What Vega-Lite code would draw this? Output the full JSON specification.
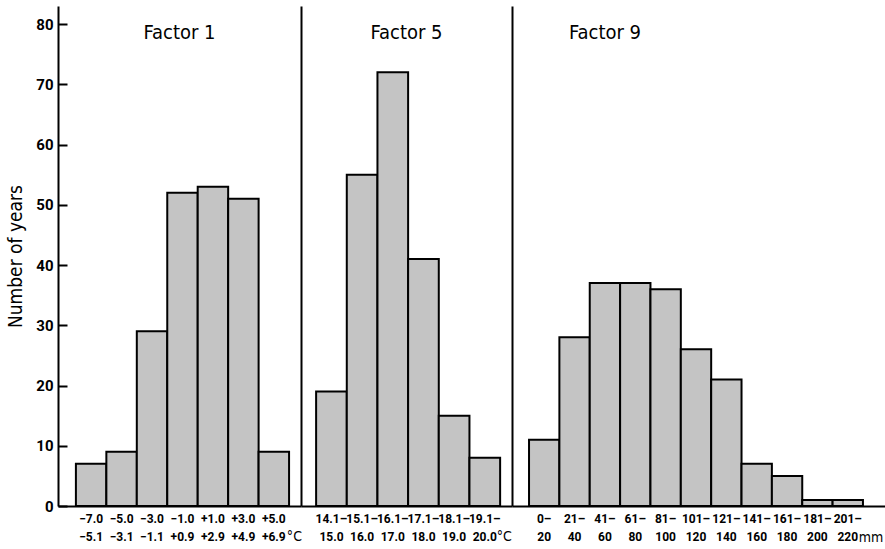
{
  "$schema": "https://vega.github.io/schema/vega-lite/v6.json",
  "background": "white",
  "padding": {"left": 6, "top": 6, "right": 0, "bottom": 0},
  "spacing": 0,
  "bounds": "flush",
  "config": {
    "font": "DejaVu Sans Condensed",
    "view": {"stroke": null},
    "axis": {"domainColor": "black", "domainWidth": 2, "tickColor": "black", "labelColor": "black", "titleColor": "black", "grid": false},
    "axisX": {"title": null, "ticks": false, "labelAngle": 0, "labelPadding": 7, "labelFont": "Roboto", "labelFontSize": 12, "labelFontWeight": "bold", "labelLineHeight": 18, "labelOverlap": false, "labelExpr": "split(datum.label, '\\n')"},
    "title": {"color": "black", "fontWeight": "normal", "fontSize": 20, "font": "DejaVu Sans Condensed"}
  },
  "datasets": {
    "f1": [
      {"range": "−7.0\n−5.1", "years": 7},
      {"range": "−5.0\n−3.1", "years": 9},
      {"range": "−3.0\n−1.1", "years": 29},
      {"range": "−1.0\n+0.9", "years": 52},
      {"range": "+1.0\n+2.9", "years": 53},
      {"range": "+3.0\n+4.9", "years": 51},
      {"range": "+5.0\n+6.9", "years": 9, "unit": "°C"}
    ],
    "f5": [
      {"range": "14.1–\n15.0", "years": 19},
      {"range": "15.1–\n16.0", "years": 55},
      {"range": "16.1–\n17.0", "years": 72},
      {"range": "17.1–\n18.0", "years": 41},
      {"range": "18.1–\n19.0", "years": 15},
      {"range": "19.1–\n20.0", "years": 8, "unit": "°C"}
    ],
    "f9": [
      {"range": "0–\n20", "years": 11},
      {"range": "21–\n40", "years": 28},
      {"range": "41–\n60", "years": 37},
      {"range": "61–\n80", "years": 37},
      {"range": "81–\n100", "years": 36},
      {"range": "101–\n120", "years": 26},
      {"range": "121–\n140", "years": 21},
      {"range": "141–\n160", "years": 7},
      {"range": "161–\n180", "years": 5},
      {"range": "181–\n200", "years": 1},
      {"range": "201–\n220", "years": 1, "unit": "mm"}
    ]
  },
  "hconcat": [
    {
      "width": 243,
      "height": 500,
      "title": {"text": "Factor 1", "frame": "group", "offset": -37},
      "data": {"name": "f1"},
      "encoding": {
        "x": {"field": "range", "type": "nominal", "sort": null, "scale": {"paddingInner": 0, "paddingOuter": 0.49, "align": 0.6}}
      },
      "layer": [
        {"mark": {"type": "bar", "fill": "#c4c4c4", "stroke": "black", "strokeWidth": 2},
         "encoding": {"y": {"field": "years", "type": "quantitative", "scale": {"domain": [0, 83], "nice": false},
              "axis": {"title": "Number of years", "titleFontSize": 19, "titleFontWeight": "normal", "titlePadding": 10,
                       "values": [0, 10, 20, 30, 40, 50, 60, 70, 80], "tickSize": -9, "tickWidth": 2, "labelPadding": 14, "labelFont": "Roboto", "labelFontSize": 15, "labelFontWeight": "bold"}}}},
        {"transform": [{"filter": "isValid(datum.unit)"}],
         "mark": {"type": "text", "align": "left", "baseline": "middle", "dx": 13, "dy": 31, "fontSize": 14, "font": "DejaVu Sans Condensed", "fill": "black"},
         "encoding": {"y": {"datum": 0}, "text": {"field": "unit", "type": "nominal"}}}
      ]
    },
    {
      "width": 211,
      "height": 500,
      "title": {"text": "Factor 5", "frame": "group", "offset": -37},
      "data": {"name": "f5"},
      "encoding": {
        "x": {"field": "range", "type": "nominal", "sort": null, "scale": {"paddingInner": 0, "paddingOuter": 0.44, "align": 0.56}}
      },
      "layer": [
        {"mark": {"type": "bar", "fill": "#c4c4c4", "stroke": "black", "strokeWidth": 2},
         "encoding": {"y": {"field": "years", "type": "quantitative", "scale": {"domain": [0, 83], "nice": false},
              "axis": {"title": null, "labels": false, "ticks": false}}}},
        {"transform": [{"filter": "isValid(datum.unit)"}],
         "mark": {"type": "text", "align": "left", "baseline": "middle", "dx": 12, "dy": 31, "fontSize": 14, "font": "DejaVu Sans Condensed", "fill": "black"},
         "encoding": {"y": {"datum": 0}, "text": {"field": "unit", "type": "nominal"}}}
      ]
    },
    {
      "width": 374,
      "height": 500,
      "title": {"text": "Factor 9", "frame": "group", "offset": -37, "anchor": "start", "dx": 57},
      "data": {"name": "f9"},
      "encoding": {
        "x": {"field": "range", "type": "nominal", "sort": null, "scale": {"paddingInner": 0, "paddingOuter": 0.66, "align": 0.425}}
      },
      "layer": [
        {"mark": {"type": "bar", "fill": "#c4c4c4", "stroke": "black", "strokeWidth": 2},
         "encoding": {"y": {"field": "years", "type": "quantitative", "scale": {"domain": [0, 83], "nice": false},
              "axis": {"title": null, "labels": false, "ticks": false}}}},
        {"transform": [{"filter": "isValid(datum.unit)"}],
         "mark": {"type": "text", "align": "left", "baseline": "middle", "dx": 11, "dy": 32, "fontSize": 14, "font": "DejaVu Sans Condensed", "fill": "black"},
         "encoding": {"y": {"datum": 0}, "text": {"field": "unit", "type": "nominal"}}}
      ]
    }
  ]
}
